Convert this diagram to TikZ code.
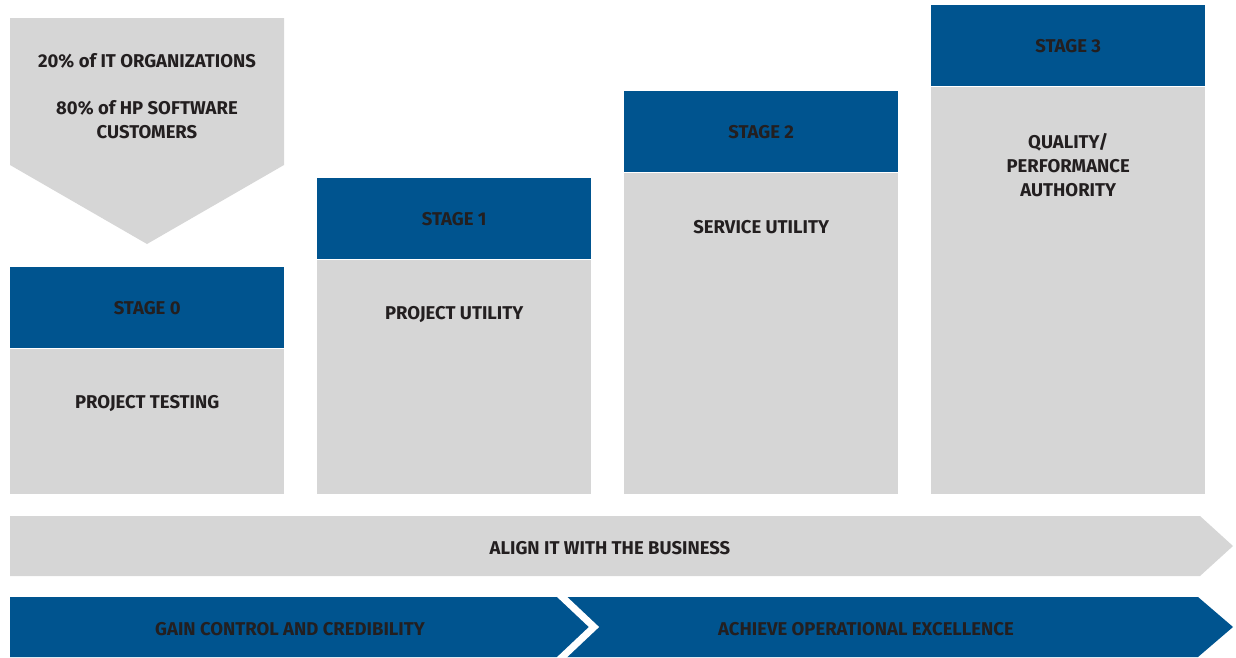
\documentclass[tikz,border=0pt]{standalone}
\usepackage{fontspec}
\setmainfont{Fira Sans}
\usetikzlibrary{positioning}

\definecolor{hpblue}{HTML}{00548F}
\definecolor{hpgray}{HTML}{D6D6D6}
\definecolor{hptext}{HTML}{231F20}

\tikzset{
	head/.style={fill=hpblue, minimum width=274pt, minimum height=81pt, inner sep=0pt,
		text=hptext, font=\fontsize{18.5}{22}\selectfont\bfseries},
	body/.style={fill=hpgray, minimum width=274pt, inner sep=0pt},
	lbl/.style={text=hptext, align=center, font=\fontsize{18.5}{24}\selectfont\bfseries}
}

\begin{document}
\begin{tikzpicture}[x=1pt, y=-1pt]
		\useasboundingbox (0, 0) rectangle (1236, 657);

		% share arrow
		\fill[hpgray] (10, 18) -- (284, 18) -- (284, 165) -- (147, 244) -- (10, 165) -- cycle;
		\node[lbl] (share1) at (147, 61) {20\% of IT ORGANIZATIONS};
		\node[lbl] (share2) at (147, 120) {80\% of HP SOFTWARE\\CUSTOMERS};

		% stages
		\node[head, anchor=north west] (head0) at (10, 267) {STAGE 0};
		\node[body, minimum height=145pt, below=0pt of head0] (body0) {};
		\node[lbl] (text0) at ([yshift=-55pt]body0.north) {PROJECT TESTING};

		\node[head, anchor=north west] (head1) at (317, 178) {STAGE 1};
		\node[body, minimum height=234pt, below=0pt of head1] (body1) {};
		\node[lbl] (text1) at ([yshift=-55pt]body1.north) {PROJECT UTILITY};

		\node[head, anchor=north west] (head2) at (624, 91) {STAGE 2};
		\node[body, minimum height=321pt, below=0pt of head2] (body2) {};
		\node[lbl] (text2) at ([yshift=-55pt]body2.north) {SERVICE UTILITY};

		\node[head, anchor=north west] (head3) at (931, 5) {STAGE 3};
		\node[body, minimum height=407pt, below=0pt of head3] (body3) {};
		\node[lbl, anchor=north] (text3) at ([yshift=-43pt]body3.north) {QUALITY/\\PERFORMANCE\\AUTHORITY};

		% align arrow
		\fill[hpgray] (10, 516) -- (1200, 516) -- (1233, 546) -- (1200, 576) -- (10, 576) -- cycle;
		\node[lbl] (align) at (610, 548) {ALIGN IT WITH THE BUSINESS};

		% blue arrow
		\fill[hpblue] (10, 597) -- (1198, 597) -- (1233, 627) -- (1198, 657) -- (10, 657) -- cycle;
		\draw[white, line width=7pt, line cap=butt] (559, 594) -- (594, 627) -- (559, 660);
		\node[lbl] (gain) at (290, 629) {GAIN CONTROL AND CREDIBILITY};
		\node[lbl] (achieve) at (866, 629) {ACHIEVE OPERATIONAL EXCELLENCE};
	\end{tikzpicture}
\end{document}
